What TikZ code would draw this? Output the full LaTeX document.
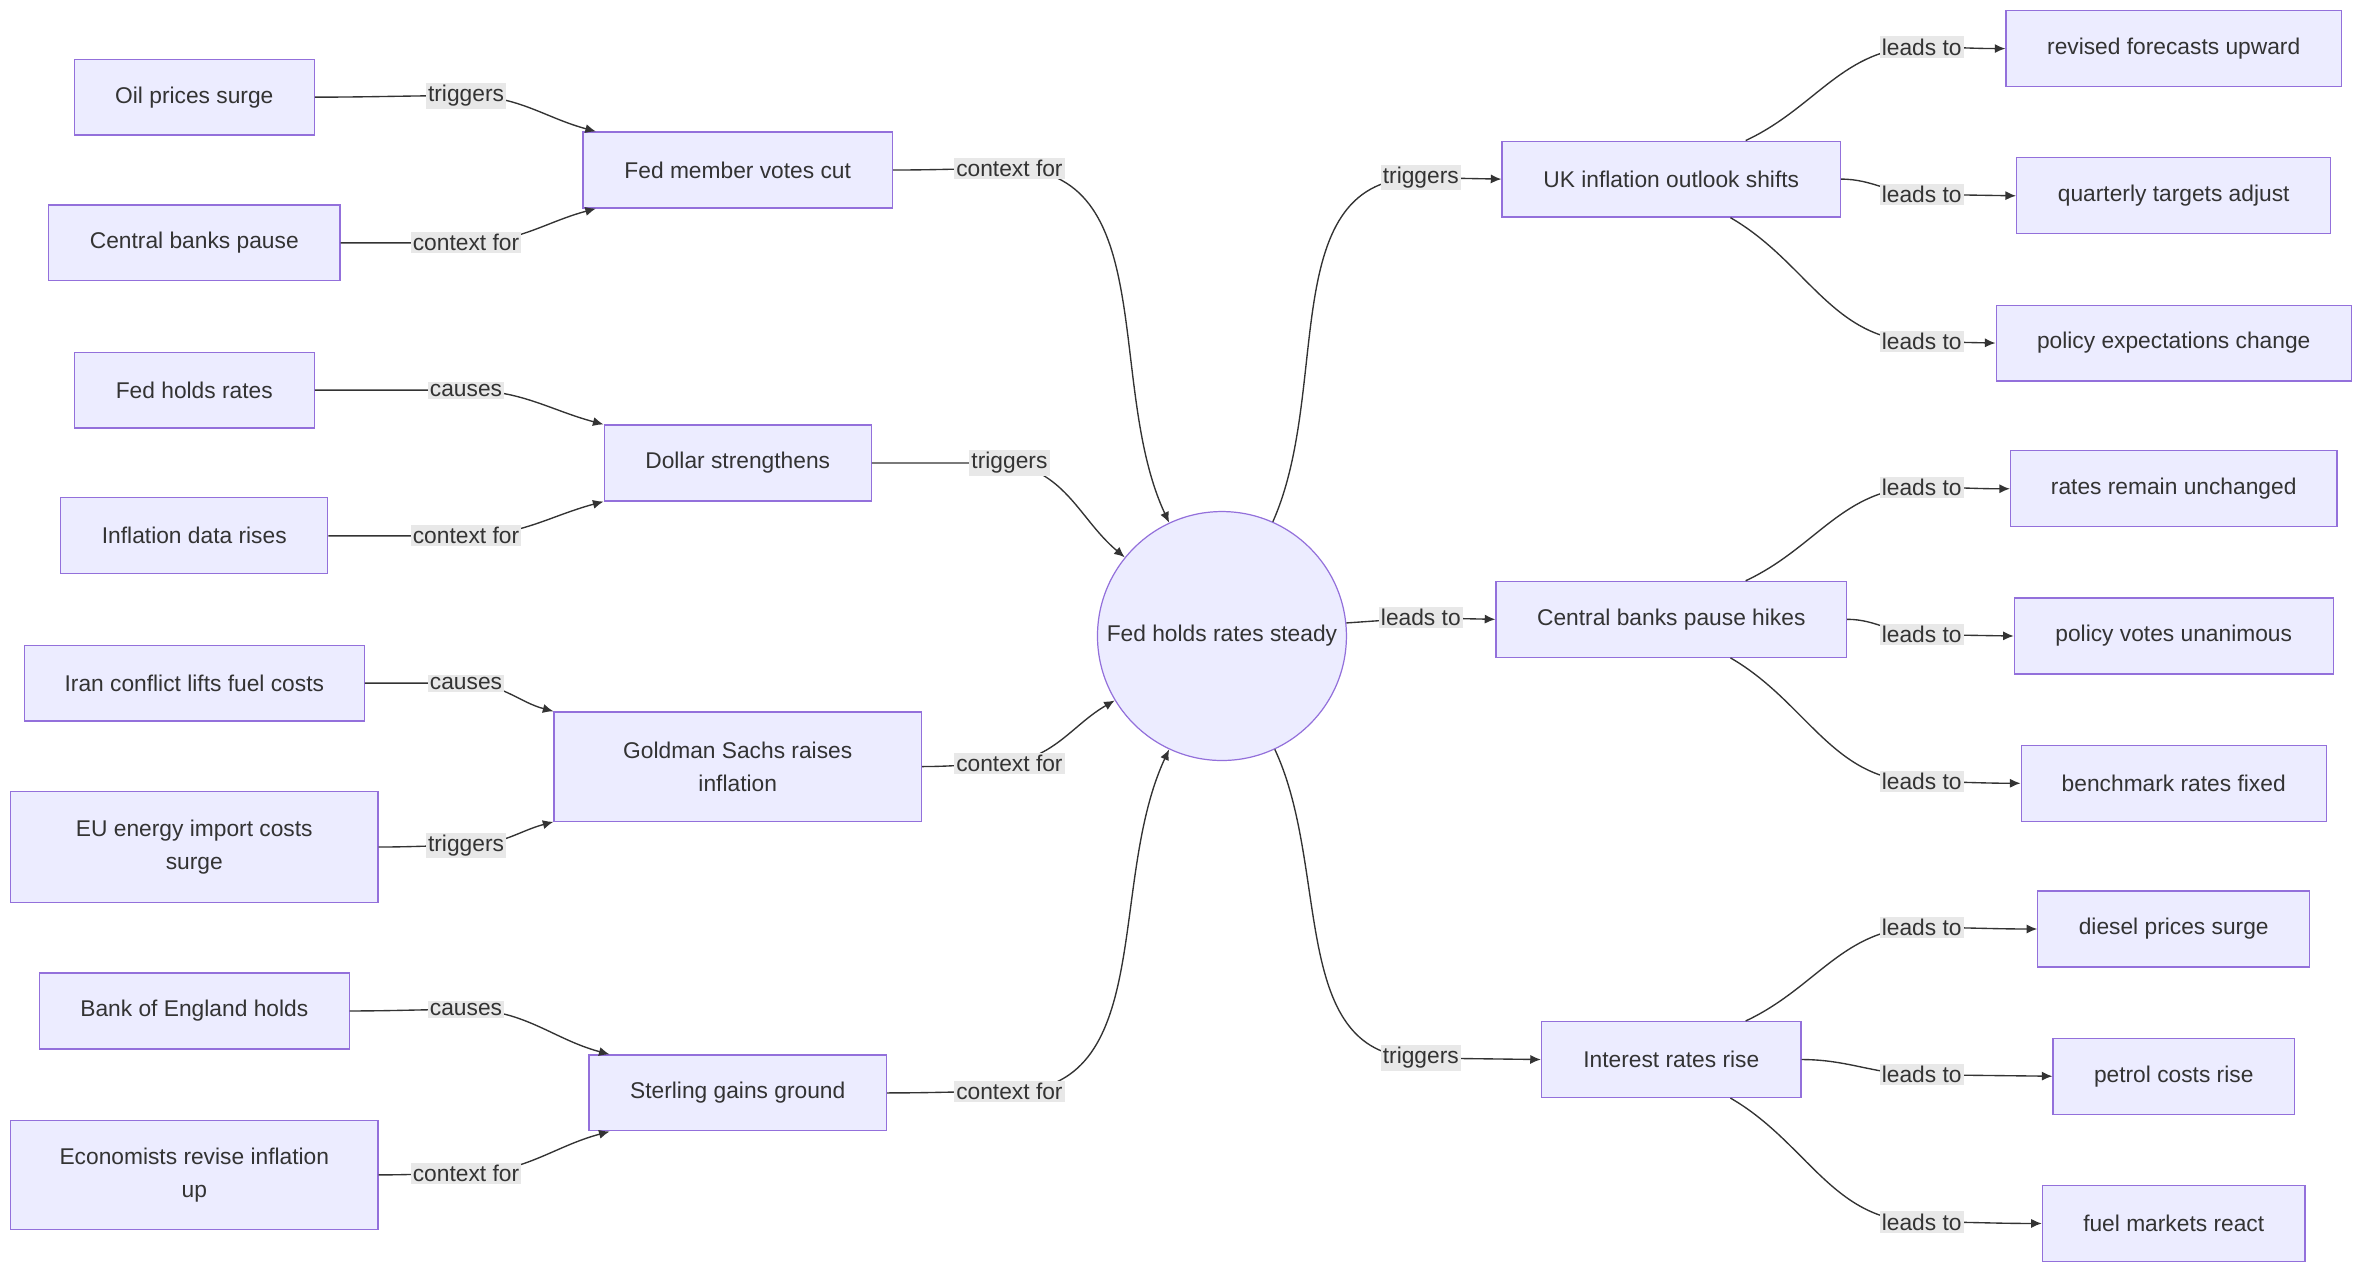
\documentclass[tikz,border=0pt]{standalone}
\usepackage{fontspec}
\setmainfont{Liberation Sans}
\usetikzlibrary{arrows.meta,calc,positioning}
\definecolor{boxfill}{HTML}{ECECFF}
\definecolor{boxline}{HTML}{9370DB}
\definecolor{edge}{HTML}{333333}
\definecolor{lblbg}{HTML}{E8E8E8}
\tikzset{
  box/.style={draw=boxline, fill=boxfill, line width=0.8pt, minimum height=50pt, align=center, inner sep=2pt, text=edge},
  hub/.style={circle, draw=boxline, fill=boxfill, line width=0.8pt, minimum size=164pt, inner sep=0pt, text=edge},
  arr/.style={-{Latex[length=7pt,width=6pt]}, draw=edge, line width=0.9pt},
  lbl/.style={fill=lblbg, text=edge, inner sep=1.5pt}
}
\begin{document}
\begin{tikzpicture}[x=1pt,y=-1pt,font=\fontsize{15}{22}\selectfont]
  \useasboundingbox (0,0) rectangle (1560,840);
  % left column
  \node[box, minimum width=158pt] (oil) at (128,64) {Oil prices surge};
  \node[box, minimum width=192pt] (cbp) at (128,160) {Central banks pause};
  \node[box, minimum width=158pt] (fhr) at (128,257) {Fed holds rates};
  \node[box, minimum width=176pt] (idr) at (128,353) {Inflation data rises};
  \node[box, minimum width=224pt] (iran) at (128,450) {Iran conflict lifts fuel costs};
  \node[box, minimum width=242pt, minimum height=73pt] (eu) at (128,558) {EU energy import costs\\surge};
  \node[box, minimum width=204pt] (boe) at (128,666) {Bank of England holds};
  \node[box, minimum width=242pt, minimum height=72pt] (eco) at (128,774) {Economists revise inflation\\up};
  % middle column
  \node[box, minimum width=204pt] (fmv) at (486,112) {Fed member votes cut};
  \node[box, minimum width=176pt] (dol) at (486,305) {Dollar strengthens};
  \node[box, minimum width=242pt, minimum height=72pt] (gs) at (486,505) {Goldman Sachs raises\\inflation};
  \node[box, minimum width=196pt] (ster) at (486,720) {Sterling gains ground};
  % hub
  \node[hub] (hub) at (805,419) {Fed holds rates steady};
  % right middle
  \node[box, minimum width=223pt] (uk) at (1101,118) {UK inflation outlook shifts};
  \node[box, minimum width=231pt] (cbh) at (1101,408) {Central banks pause hikes};
  \node[box, minimum width=171pt] (irr) at (1101,698) {Interest rates rise};
  % right column
  \node[box, minimum width=221pt] (rfu) at (1432,32) {revised forecasts upward};
  \node[box, minimum width=207pt] (qta) at (1432,129) {quarterly targets adjust};
  \node[box, minimum width=234pt] (pec) at (1432,226) {policy expectations change};
  \node[box, minimum width=215pt] (rru) at (1432,322) {rates remain unchanged};
  \node[box, minimum width=210pt] (pvu) at (1432,419) {policy votes unanimous};
  \node[box, minimum width=201pt] (brf) at (1432,516) {benchmark rates fixed};
  \node[box, minimum width=179pt] (dps) at (1432,612) {diesel prices surge};
  \node[box, minimum width=159pt] (pcr) at (1432,709) {petrol costs rise};
  \node[box, minimum width=173pt] (fmr) at (1432,806) {fuel markets react};
  % label spots
  \coordinate (l1) at (307,63);  \coordinate (l2) at (307,160);
  \coordinate (l3) at (307,257); \coordinate (l4) at (307,353);
  \coordinate (l5) at (307,450); \coordinate (l6) at (307,557);
  \coordinate (l7) at (307,665); \coordinate (l8) at (307,773);
  \coordinate (m1) at (665,111); \coordinate (m2) at (665,305);
  \coordinate (m3) at (665,503); \coordinate (m4) at (665,719);
  \coordinate (h1) at (936,117); \coordinate (h2) at (936,407);
  \coordinate (h3) at (936,697);
  \coordinate (r1) at (1266,31);  \coordinate (r2) at (1266,128); \coordinate (r3) at (1266,225);
  \coordinate (r4) at (1266,321); \coordinate (r5) at (1266,418); \coordinate (r6) at (1266,515);
  \coordinate (r7) at (1266,611); \coordinate (r8) at (1266,708); \coordinate (r9) at (1266,805);
  % left -> middle
  \draw[arr] (oil.east) to[out=0,in=180] (l1) to[out=0,in=165] ($(fmv.north west)+(9,0)$);
  \draw[arr] (cbp.east) to[out=0,in=180] (l2) to[out=0,in=195] ($(fmv.south west)+(9,0)$);
  \draw[arr] (fhr.east) to[out=0,in=180] (l3) to[out=0,in=165] (dol.north west);
  \draw[arr] (idr.east) to[out=0,in=180] (l4) to[out=0,in=195] (dol.south west);
  \draw[arr] (iran.east) to[out=0,in=180] (l5) to[out=0,in=165] (gs.north west);
  \draw[arr] (eu.east) to[out=0,in=180] (l6) to[out=0,in=195] (gs.south west);
  \draw[arr] (boe.east) to[out=0,in=180] (l7) to[out=0,in=165] ($(ster.north west)+(14,0)$);
  \draw[arr] (eco.east) to[out=0,in=180] (l8) to[out=0,in=195] ($(ster.south west)+(14,0)$);
  % middle -> hub
  \draw[arr] (fmv.east) to[out=0,in=180] (m1) to[out=0,in=115] (hub.115);
  \draw[arr] (dol.east) to[out=0,in=180] (m2) to[out=-10,in=140] (hub.141);
  \draw[arr] (gs.east) to[out=0,in=180] (m3) to[out=10,in=210] (hub.211);
  \draw[arr] (ster.east) to[out=0,in=180] (m4) to[out=0,in=245] (hub.245);
  % hub -> right
  \draw[arr] (hub.66) to[out=66,in=180] (h1) -- (uk.west);
  \draw[arr] (hub.6) -- (h2) -- (cbh.west);
  \draw[arr] (hub.-65) to[out=-65,in=180] (h3) -- (irr.west);
  \draw[arr] ($(uk.north)+(49,0)$) to[out=25,in=180] (r1) to[out=0,in=180] (rfu.west);
  \draw[arr] (uk.east) to[out=0,in=180] (r2) -- (qta.west);
  \draw[arr] ($(uk.south)+(39,0)$) to[out=-30,in=180] (r3) -- (pec.west);
  \draw[arr] ($(cbh.north)+(49,0)$) to[out=25,in=180] (r4) to[out=0,in=180] (rru.west);
  \draw[arr] (cbh.east) to[out=0,in=180] (r5) -- (pvu.west);
  \draw[arr] ($(cbh.south)+(39,0)$) to[out=-30,in=180] (r6) to[out=0,in=180] (brf.west);
  \draw[arr] ($(irr.north)+(49,0)$) to[out=25,in=180] (r7) to[out=0,in=180] (dps.west);
  \draw[arr] (irr.east) to[out=0,in=180] (r8) -- (pcr.west);
  \draw[arr] ($(irr.south)+(39,0)$) to[out=-30,in=180] (r9) to[out=0,in=180] (fmr.west);
  % labels
  \node[lbl] at (l1) {triggers};    \node[lbl] at (l2) {context for};
  \node[lbl] at (l3) {causes};      \node[lbl] at (l4) {context for};
  \node[lbl] at (l5) {causes};      \node[lbl] at (l6) {triggers};
  \node[lbl] at (l7) {causes};      \node[lbl] at (l8) {context for};
  \node[lbl] at (m1) {context for}; \node[lbl] at (m2) {triggers};
  \node[lbl] at (m3) {context for}; \node[lbl] at (m4) {context for};
  \node[lbl] at (h1) {triggers};    \node[lbl] at (h2) {leads to};
  \node[lbl] at (h3) {triggers};
  \foreach \r in {r1,r2,r3,r4,r5,r6,r7,r8,r9}{\node[lbl] at (\r) {leads to};}
\end{tikzpicture}
\end{document}
